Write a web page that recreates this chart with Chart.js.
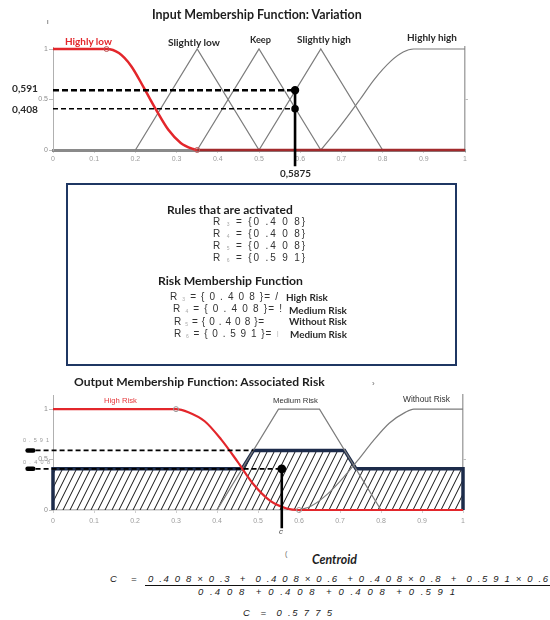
<!DOCTYPE html>
<html><head><meta charset="utf-8">
<script src="https://cdn.jsdelivr.net/npm/chart.js@4.4.0/dist/chart.umd.min.js"></script>
<style>
html,body{margin:0;padding:0;background:#fff;}
#page{position:relative;width:550px;height:620px;overflow:hidden;background:#fff;}
canvas{position:absolute;left:0;}
.t{position:absolute;white-space:pre;line-height:1;}
.sb{font-size:5px;color:#aaa;vertical-align:-1px;}
#box{position:absolute;left:66px;top:183px;width:391px;height:183px;box-sizing:border-box;border:2.5px solid #1f3763;}
#bar{position:absolute;left:145px;top:585px;width:405px;height:1.3px;background:#111;}
</style></head><body><div id="page">
<canvas id="c1" width="550" height="182" style="top:0px"></canvas>
<div id="box"></div>
<canvas id="c2" width="550" height="175" style="top:370px"></canvas>
<div id="bar"></div>
</div>
<script>
// ---------- data ----------
// Input membership functions: Variation
const highlyLow    = [[0,1],[0.13,1],[0.16,0.96],[0.19,0.83],[0.22,0.62],[0.25,0.4],[0.28,0.2],[0.31,0.07],[0.34,0.01],[0.35,0],[1,0]];
const slightlyLow  = [[0.2,0],[0.35,1],[0.5,0]];
const keepMF       = [[0.35,0],[0.5,1],[0.65,0]];
const slightlyHigh = [[0.5,0],[0.65,1],[0.8,0]];
const highlyHigh   = [[0.65,0],[0.69,0.2],[0.72,0.36],[0.745,0.5],[0.78,0.7],[0.82,0.88],[0.85,0.97],[0.875,1],[1,1]];
const inputValue   = 0.5875;
const degrees      = [0.591, 0.408];
// Output membership functions: Associated Risk
const highRisk     = [[0,1],[0.3,1],[0.33,0.97],[0.37,0.88],[0.41,0.7],[0.45,0.48],[0.49,0.25],[0.53,0.09],[0.57,0.015],[0.6,0],[1,0]];
const mediumRisk   = [[0.4,0],[0.55,1],[0.65,1],[0.8,0]];
const withoutRisk  = [[0.6,0],[0.63,0.04],[0.67,0.16],[0.71,0.33],[0.745,0.5],[0.78,0.68],[0.82,0.86],[0.86,0.97],[0.88,1],[1,1]];
const aggregated   = [[0,0],[0,0.408],[0.461,0.408],[0.489,0.591],[0.711,0.591],[0.739,0.408],[1,0.408],[1,0]];
const centroidDrawn = 0.558;
const leftArrowX   = -0.062;
const arrowLen     = 0.014;
const cutEnds      = [0.489, 0.558];
// ticks
const yTickValues  = [0, 0.5, 1];
const xStep        = 0.1;

// ---------- helpers ----------
const pts = a => a.map(([x,y]) => ({x, y}));
const RED = '#e3262b', GRAY = '#7c7c7c', NAVY = '#1c2b4a';
const tickFont = {size:7, family:'Liberation Sans'};
const fmt = v => String(Math.round(v * 10) / 10);

function axes(o){
  return {
    x:{type:'linear', min:0, max:1,
       ticks:{stepSize:xStep, color:'#9c9c9c', font:tickFont, padding:o.xpad, maxRotation:0, autoSkip:false, callback:fmt},
       grid:{drawOnChartArea:false, tickLength:3, color:'#cfcfcf'},
       border:{color:o.xBorder, width:o.xBorderW},
       afterFit:s=>{s.height=o.xh;}},
    y:{type:'linear', min:0, max:o.ymax, position:'left',
       afterBuildTicks:s=>{s.ticks=yTickValues.map(v=>({value:v}));},
       ticks:{color:'#8c8c8c', font:tickFont, padding:1, callback:fmt},
       grid:{drawOnChartArea:false, tickLength:4, color:'#bdbdbd'},
       border:{color:'#b0b0b0', width:1},
       afterFit:s=>{s.width=53;}},
    y2:{type:'linear', min:0, max:o.ymax, position:'right',
       afterBuildTicks:s=>{s.ticks=[{value:0.5}];},
       ticks:{display:false},
       grid:{drawOnChartArea:false, tickLength:3, color:'#bdbdbd'},
       border:{color:'#a8a8a8', width:1.5},
       afterFit:s=>{s.width=4;}}
  };
}
function line(data, color, width, extra){
  return Object.assign({data:pts(data), borderColor:color, borderWidth:width, pointRadius:0,
    fill:false, tension:0}, extra||{});
}
const markerR = (idx, r) => ctx => idx.includes(ctx.dataIndex) ? r : 0;

// ---------- chart 1 ----------
new Chart(document.getElementById('c1'), {
  type:'line',
  data:{datasets:[
    line([[inputValue,degrees[0]],[inputValue,-0.16]], '#000', 2.6, {clip:false}),
    line([[0,degrees[0]],[inputValue,degrees[0]]], '#000', 2.4, {borderDash:[6,3], pointRadius:[0,3], pointBackgroundColor:'#000', pointBorderColor:'#000', clip:false}),
    line([[0,degrees[1]],[inputValue,degrees[1]]], '#000', 1.6, {borderDash:[5,3], pointRadius:[0,3], pointBackgroundColor:'#000', pointBorderColor:'#000', clip:false}),
    line(highlyLow, RED, 2.5, {cubicInterpolationMode:'monotone', pointRadius:markerR([1,9],2.5), pointBackgroundColor:'rgba(0,0,0,0)', pointBorderColor:'#b55', pointBorderWidth:1,
       segment:{borderColor:c=>(c.p0.parsed.y===0&&c.p1.parsed.y===0)?'#a22a2c':undefined}, clip:false}),
    line(slightlyLow, GRAY, 1.2),
    line(keepMF, GRAY, 1.2),
    line(slightlyHigh, GRAY, 1.2),
    line(highlyHigh, GRAY, 1.2, {cubicInterpolationMode:'monotone'})
  ]},
  options:{responsive:false, animation:false, events:[],
    layout:{padding:{left:0, right:81, top:47, bottom:0}},
    plugins:{legend:{display:false}, tooltip:{enabled:false}},
    scales:axes({ymax:1.02, xh:32, xpad:2, xBorder:'#8a8a8a', xBorderW:3})}
});

// ---------- chart 2 ----------
const tile = document.createElement('canvas'); tile.width = 7; tile.height = 14;
const tg = tile.getContext('2d'); tg.strokeStyle = '#111'; tg.lineWidth = 1;
tg.beginPath(); for (const o of [-7,0,7]) { tg.moveTo(o,14); tg.lineTo(o+7,0); } tg.stroke();
const c2 = document.getElementById('c2');
const hatch = c2.getContext('2d').createPattern(tile, 'repeat');
const arrow = y => line([[leftArrowX,y],[leftArrowX+arrowLen,y]], '#000', 4.5, {borderCapStyle:'round', clip:false});

new Chart(c2, {
  type:'line',
  data:{datasets:[
    line([[centroidDrawn,degrees[1]],[centroidDrawn,-0.18]], '#000', 2.6, {clip:false}),
    arrow(degrees[0]),
    arrow(degrees[1]),
    line([[leftArrowX,degrees[1]],[cutEnds[1],degrees[1]]], '#000', 1.8, {borderDash:[5,3], pointRadius:[0,3.5], pointBackgroundColor:'#000', pointBorderColor:'#000', clip:false}),
    line([[leftArrowX,degrees[0]],[cutEnds[0],degrees[0]]], '#000', 1.6, {borderDash:[5,3], clip:false}),
    line(highRisk, RED, 2.2, {cubicInterpolationMode:'monotone', pointRadius:markerR([1,9],2.5), pointBackgroundColor:'rgba(0,0,0,0)', pointBorderColor:'#999', pointBorderWidth:1, clip:false}),
    line(mediumRisk, GRAY, 1.2),
    line(withoutRisk, GRAY, 1.2, {cubicInterpolationMode:'monotone'}),
    line(aggregated, NAVY, 3.5, {fill:'origin', backgroundColor:hatch, borderJoinStyle:'miter', clip:false})
  ]},
  options:{responsive:false, animation:false, events:[],
    layout:{padding:{left:0, right:83, top:25, bottom:0}},
    plugins:{legend:{display:false}, tooltip:{enabled:false}},
    scales:axes({ymax:1.14, xh:35, xpad:4, xBorder:'#bdbdbd', xBorderW:1.5})}
});

// ---------- texts ----------
const page = document.getElementById('page');
function put(html, x, cy, w, css, mode){
  const d = document.createElement('div');
  d.className = 't'; d.style.cssText = css; d.innerHTML = html;
  d.style.left = x + 'px'; d.style.top = '0px';
  page.appendChild(d);
  if (w) {
    const r = d.getBoundingClientRect().width;
    if (mode === 'ls') {
      const n = d.textContent.length;
      d.style.letterSpacing = ((w - r) / Math.max(n - 1, 1)) + 'px';
    } else {
      const fs = parseFloat(getComputedStyle(d).fontSize);
      d.style.fontSize = (fs * w / r) + 'px';
    }
  }
  const h = d.getBoundingClientRect().height;
  d.style.top = (cy - h / 2) + 'px';
  return d;
}
const BOLD = 'font-family:Lato,sans-serif;font-weight:700;color:#1e1e1e;font-size:12px;';
const LAB  = 'font-family:Lato,sans-serif;font-weight:700;color:#2a2a2a;font-size:9px;';
const SM   = 'font-family:"Liberation Sans",sans-serif;color:#333;font-size:8px;';
const MONO = 'font-family:"Liberation Sans",sans-serif;color:#333;font-size:10px;';
const ITAL = 'font-family:"Liberation Sans",sans-serif;font-style:italic;color:#1a1a1a;font-size:9.5px;';

// top chart
put('Input Membership Function: Variation', 152, 15, 210, BOLD);
put('I', 47, 22, 0, SM + 'font-size:6px;');
put('Highly low', 65, 42, 47, LAB + 'color:' + RED + ';');
put('Slightly low', 168, 42, 52, LAB);
put('Keep', 250, 40, 21, LAB);
put('Slightly high', 297, 39, 54, LAB);
put('Highly high', 407, 38, 50, LAB);
put('0,591', 12, 88, 26, LAB);
put('0,408', 12, 109, 26, LAB);
put('0,5875', 280, 174, 31, LAB);

// box
put('Rules that are activated', 167, 210, 126, BOLD);
const ruleLines = ['R <span class="sb">3</span> = {0 .4 0 8}', 'R <span class="sb">4</span> = {0 .4 0 8}', 'R <span class="sb">5</span> = {0 .4 0 8}', 'R <span class="sb">6</span> = {0 .5 9 1}'];
ruleLines.forEach((s, i) => put(s, 213, 222 + i * 12, 92, MONO, 'ls'));
put('Risk Membership Function', 158, 281, 145, BOLD);
const riskLines = [
  ['R <span class="sb">3</span> = { 0 . 4 0 8 }= /', 170, 108, 'High Risk', 286, 42],
  ['R <span class="sb">4</span> = { 0 . 4 0 8 }= !', 173, 109, 'Medium Risk', 289, 58],
  ['R <span class="sb">5</span> = { 0 . 4 0 8 }=', 174, 90, 'Without Risk', 289, 58],
  ['R <span class="sb">6</span> = { 0 . 5 9 1 }= <span style="color:#ccc">ı</span>', 174, 105, 'Medium Risk', 290, 57]
];
riskLines.forEach((r, i) => {
  const cy = 297 + i * 12.4;
  put(r[0], r[1], cy, r[2], MONO, 'ls');
  put(r[3], r[4], cy + 0.5, r[5], LAB);
});

// bottom chart
put('Output Membership Function: Associated Risk', 74, 382, 251, BOLD);
put('›', 372, 384, 0, SM + 'color:#666;');
put('High Risk', 104, 401, 33, SM + 'color:#e5393c;');
put('Medium Risk', 273, 401, 45, SM);
put('Without Risk', 403, 399, 47, SM);
put('0 . 5 9 1', 23, 441, 26, SM + 'color:#999;font-size:5.5px;', 'ls');
put('0 . 4 0 8', 23, 463, 27, SM + 'color:#999;font-size:5.5px;', 'ls');
put('c', 279, 532, 0, ITAL + 'font-size:8px;color:#444;');

// formula
put('(', 285, 553, 0, SM + 'font-size:7px;color:#666;');
put('Centroid', 312, 560, 45, BOLD + 'font-style:italic;');
put('C', 110, 579, 0, ITAL);
put('=', 131, 579, 0, ITAL);
put('0 .4 0 8 × 0 .3  +  0 .4 0 8 × 0 .6  + 0 .4 0 8 × 0 .8  +  0 .5 9 1 × 0 .6', 148, 579, 400, ITAL, 'ls');
put('0 .4 0 8  + 0 .4 0 8  + 0 .4 0 8  + 0 .5 9 1', 198, 592, 257, ITAL, 'ls');
put('C  =  0 .5 7 7 5', 243, 613, 89, ITAL, 'ls');
</script>
</body></html>
